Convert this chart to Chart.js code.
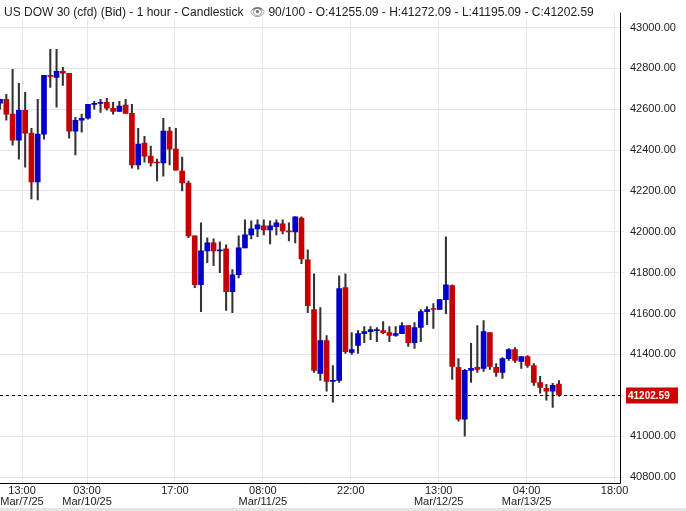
<!DOCTYPE html>
<html><head><meta charset="utf-8">
<script src="https://cdn.jsdelivr.net/npm/chart.js@4"></script>
<style>
html,body{margin:0;padding:0;background:#fff;}
#wrap{position:relative;width:686px;height:511px;}
#hdr{position:absolute;left:4px;top:5px;font:12px "Liberation Sans",Arial,sans-serif;color:#222;white-space:nowrap;background:rgba(255,255,255,0.85);}
#bot{position:absolute;left:0;top:508px;width:686px;height:3px;background:#e4e4e4;}
</style></head><body>
<div id="wrap"><canvas id="c" width="686" height="511"></canvas>
<div id="hdr">US DOW 30 (cfd) (Bid) - 1 hour - Candlestick &nbsp;<span style="color:#777">&#128065;</span> 90/100 - O:41255.09 - H:41272.09 - L:41195.09 - C:41202.59</div>
<div id="bot"></div></div>
<script>
const opens  = [42630,42649,42576,42449,42595,42483,42244,42478,42766,42756,42785,42776,42493,42546,42556,42624,42629,42634,42605,42590,42620,42580,42327,42434,42371,42341,42337,42493,42405,42298,42239,41980,41741,41907,41946,41907,41917,41707,41790,41922,41985,42015,42030,42010,42025,42039,42005,42000,42068,41863,41620,41307,41468,41268,41273,41727,41410,41444,41502,41512,41517,41517,41507,41493,41502,41541,41458,41532,41610,41624,41620,41668,41737,41337,41083,41322,41337,41332,41507,41337,41312,41380,41424,41366,41390,41346,41263,41234,41220,41255.09];
const highs  = [42650,42673,42795,42727,42683,42507,42649,42766,42893,42893,42805,42776,42561,42576,42624,42639,42649,42654,42634,42639,42649,42624,42507,42468,42420,42356,42556,42512,42507,42366,42249,41980,42044,41971,41966,41951,41937,41815,41980,42059,42054,42059,42059,42054,42059,42059,42044,42073,42073,41912,41795,41629,41493,41346,41785,41795,41507,41517,41537,41537,41532,41561,41537,41537,41556,41541,41556,41620,41634,41649,41668,41976,41741,41380,41327,41454,41541,41566,41507,41356,41385,41429,41434,41390,41395,41356,41293,41254,41259,41272.09];
const lows   = [42600,42546,42424,42356,42317,42161,42156,42454,42707,42610,42717,42459,42376,42488,42551,42600,42585,42595,42576,42590,42580,42312,42307,42341,42322,42249,42273,42327,42302,42200,41971,41727,41610,41849,41834,41800,41615,41605,41775,41922,41966,41976,41985,41941,41985,41990,41956,41946,41844,41605,41312,41273,41220,41166,41263,41405,41400,41405,41458,41473,41463,41502,41463,41488,41502,41439,41429,41463,41546,41527,41620,41600,41278,41073,41000,41263,41312,41317,41327,41293,41283,41371,41361,41332,41337,41249,41210,41176,41141,41195.09];
const closes = [42649,42576,42449,42595,42483,42244,42478,42766,42761,42785,42776,42493,42546,42556,42624,42629,42634,42605,42590,42615,42580,42327,42429,42371,42337,42337,42493,42405,42302,42239,41980,41741,41907,41946,41907,41912,41707,41790,41922,41985,42015,42034,42010,42030,42044,42005,42000,42073,41868,41639,41322,41468,41268,41273,41722,41414,41424,41502,41512,41522,41522,41507,41493,41502,41541,41458,41532,41610,41620,41620,41668,41741,41341,41083,41322,41332,41327,41512,41341,41312,41380,41424,41371,41390,41346,41263,41239,41220,41249,41202.59];
const tickPos    = [3.65,14,28,42,56,70,84,98];
const tickLabels = [["13:00","Mar/7/25"],["03:00","Mar/10/25"],["17:00",""],["08:00","Mar/11/25"],["22:00",""],["13:00","Mar/12/25"],["04:00","Mar/13/25"],["18:00",""]];
const yTicks = [40800,41000,41200,41400,41600,41800,42000,42200,42400,42600,42800,43000];
const lastPrice = 41202.59;

const RED='#c40000', BLUE='#0000c8';
const bodies = opens.map((o,i)=>{let c=closes[i]; if(Math.abs(c-o)<4){c = c>=o? o+4 : o-4;} return {x:i+0.15,y:[o,c]};});
const wicks = highs.map((h,i)=>({x:i+0.15,y:[lows[i],h]}));
const cols = opens.map((o,i)=> closes[i]>=o ? BLUE : RED);

const pricePlugin={id:'price',afterDatasetsDraw(ch){
  const {ctx,chartArea:a,scales:{y}}=ch; const py=Math.round(y.getPixelForValue(lastPrice))+0.5;
  ctx.save(); ctx.strokeStyle='#000'; ctx.lineWidth=1; ctx.setLineDash([3,3]);
  ctx.beginPath(); ctx.moveTo(a.left,py); ctx.lineTo(a.right,py); ctx.stroke(); ctx.setLineDash([]);
  ctx.fillStyle='#d00000'; ctx.fillRect(a.right+6,py-8,52,16);
  ctx.fillStyle='#fff'; ctx.font='bold 10px "Liberation Sans",Arial'; ctx.textBaseline='middle';
  ctx.fillText(lastPrice.toFixed(2),a.right+8,py+0.5);
  ctx.strokeStyle='#000'; ctx.beginPath(); ctx.moveTo(a.right+0.5,a.top); ctx.lineTo(a.right+0.5,a.bottom+0.5); ctx.lineTo(a.left,a.bottom+0.5); ctx.stroke();
  ctx.restore();}};

new Chart(document.getElementById('c'),{
  type:'bar',
  data:{datasets:[
    {data:wicks,backgroundColor:'#333',barThickness:1.4,grouped:false,order:2},
    {data:bodies,backgroundColor:cols,barThickness:5,grouped:false,order:1}
  ]},
  options:{responsive:false,animation:false,
    layout:{padding:{left:0,top:0,right:0,bottom:0}},
    plugins:{legend:{display:false},tooltip:{enabled:false}},
    scales:{
      x:{type:'linear',min:0.143,max:98.87,offset:false,
        afterBuildTicks(s){s.ticks=tickPos.map(v=>({value:v}));},
        afterFit(s){s.height=28;},
        ticks:{autoSkip:false,maxRotation:0,padding:0,color:'#222',font:{size:11,family:'"Liberation Sans",Arial',lineHeight:0.95},
          callback:(v,i)=>tickLabels[i]},
        grid:{color:'#e6e6e6',offset:false,drawTicks:true,tickLength:3},border:{display:false}},
      y:{position:'right',min:40771,max:43073,
        afterBuildTicks(s){s.ticks=yTicks.map(v=>({value:v}));},
        afterFit(s){s.width=66;},
        ticks:{color:'#222',font:{size:11,family:'"Liberation Sans",Arial'},padding:6,callback:v=>v.toFixed(2)},
        grid:{color:'#e6e6e6',tickLength:4},border:{display:false}}
    }},
  plugins:[pricePlugin]
});
</script></body></html>
